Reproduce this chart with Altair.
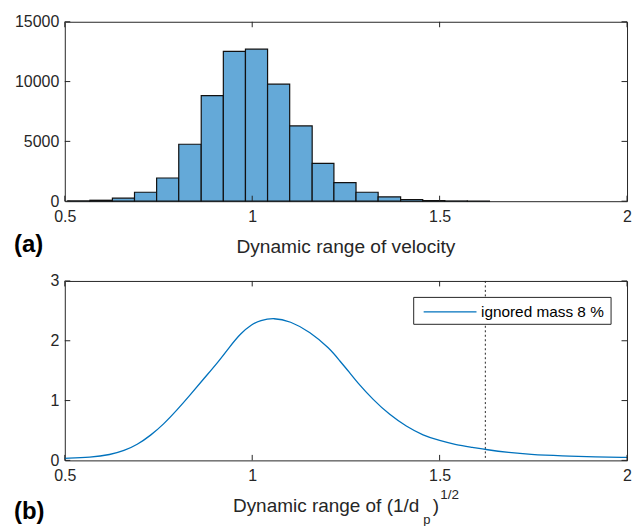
import altair as alt
import pandas as pd

# ---------------- data ----------------
bin_left = [0.508, 0.567, 0.627, 0.686, 0.745, 0.804, 0.864, 0.923, 0.982, 1.041,
            1.100, 1.160, 1.218, 1.277, 1.336, 1.396, 1.455, 1.514, 1.574]
bin_right = [0.567, 0.627, 0.686, 0.745, 0.804, 0.864, 0.923, 0.982, 1.041, 1.100,
             1.160, 1.218, 1.277, 1.336, 1.396, 1.455, 1.514, 1.574, 1.633]
counts = [20, 80, 250, 750, 1940, 4760, 8830, 12520, 12710, 9780,
          6290, 3160, 1550, 750, 360, 140, 50, 20, 10]

curve_x = [0.5, 0.569, 0.622, 0.658, 0.693, 0.729, 0.764, 0.80, 0.835, 0.870,
           0.910, 0.940, 0.968, 1.0, 1.021, 1.057, 1.101, 1.154, 1.207, 1.234,
           1.261, 1.278, 1.323, 1.367, 1.411, 1.456, 1.5, 1.544, 1.589, 1.624,
           1.686, 1.739, 1.827, 1.917, 2.0]
curve_y = [0.035, 0.05, 0.095, 0.16, 0.26, 0.417, 0.606, 0.846, 1.097, 1.36,
           1.65, 1.90, 2.12, 2.28, 2.34, 2.385, 2.33, 2.15, 1.87, 1.66,
           1.46, 1.32, 1.01, 0.76, 0.567, 0.417, 0.33, 0.26, 0.217, 0.18,
           0.13, 0.10, 0.075, 0.058, 0.05]

cutoff_x = [1.622]
x_ticks = [0.5, 1, 1.5, 2]
y_ticks_a = [0, 5000, 10000, 15000]
y_ticks_b = [0, 1, 2, 3]
legend_label = "ignored mass 8 %"

# ---------------- styling ----------------
W, H = 564, 180
OX, OY = 64, 20          # where the top panel's plot area should start
AX = "#262626"
FONT = "Liberation Sans"
TL = 5.5

hist_df = pd.DataFrame({"x0": bin_left, "x1": bin_right, "count": counts})
curve_df = pd.DataFrame({"x": curve_x, "y": curve_y})
cut_df = pd.DataFrame({"x": cutoff_x})
xt_df = pd.DataFrame({"t": x_ticks})
yta_df = pd.DataFrame({"t": y_ticks_a})
ytb_df = pd.DataFrame({"t": y_ticks_b})

xscale = alt.Scale(domain=[0.5, 2], nice=False, zero=False)
ya_scale = alt.Scale(domain=[0, 15000], nice=False)
yb_scale = alt.Scale(domain=[0, 3], nice=False)

xaxis = alt.Axis(values=x_ticks, format="~g", title=None, tickSize=0, domain=False,
                 grid=False, labelPadding=7, labelFlush=False)
ya_axis = alt.Axis(values=y_ticks_a, format="d", title=None, tickSize=0, domain=False,
                   grid=False, labelPadding=6)
yb_axis = alt.Axis(values=y_ticks_b, format="d", title=None, tickSize=0, domain=False,
                   grid=False, labelPadding=6)


def x_enc(field):
    return alt.X(field, type="quantitative", scale=xscale, axis=xaxis)


def tick_layers(yscale, yaxis, yt_df):
    tb = alt.Chart(xt_df).mark_rule(color=AX, strokeWidth=1).encode(
        x=x_enc("t"), y=alt.value(H), y2=alt.value(H - TL))
    tt = alt.Chart(xt_df).mark_rule(color=AX, strokeWidth=1).encode(
        x=x_enc("t"), y=alt.value(0), y2=alt.value(TL))
    yl = alt.Chart(yt_df).mark_rule(color=AX, strokeWidth=1).encode(
        y=alt.Y("t:Q", scale=yscale, axis=yaxis), x=alt.value(0), x2=alt.value(TL))
    yr = alt.Chart(yt_df).mark_rule(color=AX, strokeWidth=1).encode(
        y=alt.Y("t:Q", scale=yscale, axis=yaxis), x=alt.value(W), x2=alt.value(W - TL))
    return [tb, tt, yl, yr]


def label(text, x, y, size, bold=False, align="left"):
    return alt.Chart(pd.DataFrame({"s": [text]})).mark_text(
        font=FONT, fontSize=size, fontWeight="bold" if bold else "normal",
        color="black" if bold else AX, align=align, baseline="alphabetic"
    ).encode(text="s:N", x=alt.value(x), y=alt.value(y))


# invisible frame that fixes the page extent to the 633x526 window
frame = alt.Chart(pd.DataFrame({"s": ["frame"]})).mark_rule(
    color="white", opacity=0, strokeWidth=0.1
).encode(x=alt.value(-OX), y=alt.value(-OY), x2=alt.value(633 - OX), y2=alt.value(526 - OY))

# ---------------- panel (a) ----------------
bars = alt.Chart(hist_df).mark_bar(
    fill="#64A9D8", stroke="#111111", strokeWidth=1.2
).encode(
    x=x_enc("x0"), x2="x1",
    y=alt.Y("count:Q", scale=ya_scale, axis=ya_axis),
    y2=alt.datum(0),
)

top = alt.layer(
    frame, bars, *tick_layers(ya_scale, ya_axis, yta_df),
    label("Dynamic range of velocity", W / 2, 231.5, 19.2, align="center"),
    label("(a)", -51, 230.5, 24, bold=True),
).properties(width=W, height=H)

# ---------------- panel (b) ----------------
cut = alt.Chart(cut_df).mark_rule(color=AX, strokeWidth=1, strokeDash=[2, 2.5]).encode(
    x=x_enc("x"), y=alt.value(0), y2=alt.value(H))

line = alt.Chart(curve_df).mark_line(color="#0072BD", strokeWidth=1.3,
                                     interpolate="basis").encode(
    x=x_enc("x"),
    y=alt.Y("y:Q", scale=yb_scale, axis=yb_axis),
)

legend_box = alt.Chart(pd.DataFrame({"s": [legend_label]})).mark_rect(
    fill="white", stroke=AX, strokeWidth=1
).encode(x=alt.value(350), x2=alt.value(548), y=alt.value(16.5), y2=alt.value(43.5))
legend_line = alt.Chart(pd.DataFrame({"s": [legend_label]})).mark_rule(
    color="#0072BD", strokeWidth=1.3
).encode(x=alt.value(360), x2=alt.value(413), y=alt.value(31), y2=alt.value(31))
legend_text = alt.Chart(pd.DataFrame({"s": [legend_label]})).mark_text(
    font=FONT, fontSize=15.4, color="black", align="left", baseline="alphabetic"
).encode(text="s:N", x=alt.value(417.5), y=alt.value(36))

bottom = alt.layer(
    cut, line, *tick_layers(yb_scale, yb_axis, ytb_df),
    legend_box, legend_line, legend_text,
    label("Dynamic range of (1/d", 168.7, 232.2, 19),
    label("p", 359.5, 244, 13),
    label(")", 369, 232.2, 19),
    label("1/2", 376.7, 218.5, 13.5),
    label("(b)", -51, 238.8, 24, bold=True),
).properties(width=W, height=H)

chart = alt.vconcat(top, bottom, spacing=80, bounds="flush").properties(
    padding=0,
    background="white",
).configure_view(
    stroke=AX, strokeWidth=1
).configure_axis(
    labelFont=FONT, labelFontSize=16, labelColor=AX,
)

chart.save("out.html", embed_options={"renderer": "svg", "actions": False})
